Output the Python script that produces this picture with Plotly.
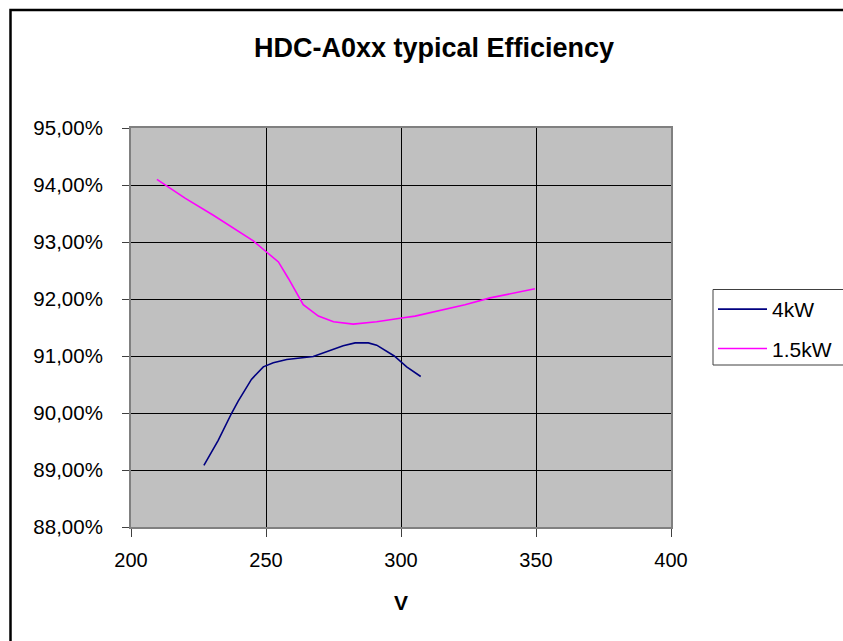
import plotly.graph_objects as go

# 4kW series
v_4kw = [227.0, 232.3, 237.3, 239.7, 244.6, 249.0, 252.7, 257.7, 267.5, 271.9,
         278.6, 283.0, 287.9, 291.0, 297.5, 302.1, 307.3]
eff_4kw = [0.8908, 0.8952, 0.9000, 0.9021, 0.9059, 0.9081, 0.9088, 0.9094, 0.9099, 0.9106,
           0.9118, 0.9123, 0.9123, 0.9119, 0.9100, 0.9081, 0.9064]

# 1.5kW series
v_15kw = [209.6, 220.0, 230.5, 245.3, 250.3, 254.6, 258.3, 263.8, 269.4, 275.0,
          282.3, 291.0, 300.9, 305.2, 323.7, 333.0, 349.6]
eff_15kw = [0.9410, 0.9377, 0.9347, 0.9302, 0.9282, 0.9265, 0.9236, 0.9190, 0.9170, 0.9160,
            0.9156, 0.9160, 0.9167, 0.9170, 0.9190, 0.9202, 0.9218]

title_text = "HDC-A0xx typical Efficiency"
x_title = "V"
series_names = ["4kW", "1.5kW"]

FONT = "Liberation Sans, Arial, sans-serif"

fig = go.Figure()
fig.add_trace(go.Scatter(x=v_4kw, y=eff_4kw, mode="lines", name=series_names[0],
                         legendgroup="g1",
                         line=dict(color="#000080", width=1.6)))
fig.add_trace(go.Scatter(x=v_15kw, y=eff_15kw, mode="lines", name=series_names[1],
                         legendgroup="g2",
                         line=dict(color="#FF00FF", width=1.6)))

W, H = 843, 641
L, R, T, B = 131, 671, 128, 527

def px_x(x):
    return (x - L) / (R - L)

def px_y(y):
    return (B - y) / (B - T)

fig.update_layout(
    width=W, height=H, autosize=False,
    margin=dict(l=L, r=W - R, t=T, b=H - B, pad=0, autoexpand=False),
    paper_bgcolor="white",
    plot_bgcolor="#C0C0C0",
    separators=",.",
    font=dict(family=FONT, size=20, color="black"),
    showlegend=True,
    legend=dict(x=px_x(713), y=px_y(289), xanchor="left", yanchor="top",
                borderwidth=0, bgcolor="rgba(0,0,0,0)",
                font=dict(family=FONT, size=21, color="black"),
                tracegroupgap=9, itemwidth=49),
    annotations=[
        dict(text="<b>" + title_text + "</b>", x=px_x(433.5), y=px_y(48),
             xref="paper", yref="paper", xanchor="center", yanchor="middle",
             showarrow=False, font=dict(family=FONT, size=27, color="black")),
    ],
    shapes=[
        dict(type="rect", xref="paper", yref="paper",
             x0=px_x(10.5), x1=px_x(900), y0=px_y(10), y1=px_y(700),
             line=dict(color="black", width=2.5), fillcolor="rgba(0,0,0,0)", layer="above"),
        dict(type="rect", xref="paper", yref="paper",
             x0=px_x(713), x1=px_x(900), y0=px_y(289.5), y1=px_y(365),
             line=dict(color="#404040", width=1), fillcolor="rgba(0,0,0,0)", layer="above"),
    ],
)

fig.update_xaxes(
    range=[200, 400], dtick=50, tick0=200,
    showgrid=True, gridcolor="black", gridwidth=1,
    showline=True, linecolor="#808080", linewidth=2, mirror=True,
    ticks="outside", ticklen=8, tickcolor="#404040", tickwidth=1,
    ticklabelstandoff=6,
    tickfont=dict(family=FONT, size=20, color="black"),
    title=dict(text="<b>" + x_title + "</b>", font=dict(family=FONT, size=21, color="black"),
               standoff=25),
    zeroline=False,
)
fig.update_yaxes(
    range=[0.88, 0.95], dtick=0.01, tick0=0.88, tickformat=".2%",
    showgrid=True, gridcolor="black", gridwidth=1,
    showline=True, linecolor="#808080", linewidth=2, mirror=True,
    ticks="outside", ticklen=7, tickcolor="#404040", tickwidth=1,
    ticklabelstandoff=15,
    tickfont=dict(family=FONT, size=20.5, color="black"),
    zeroline=False,
)

fig.write_html("out.html", config={"displayModeBar": False},
               post_script="document.body.style.margin='0px';")
